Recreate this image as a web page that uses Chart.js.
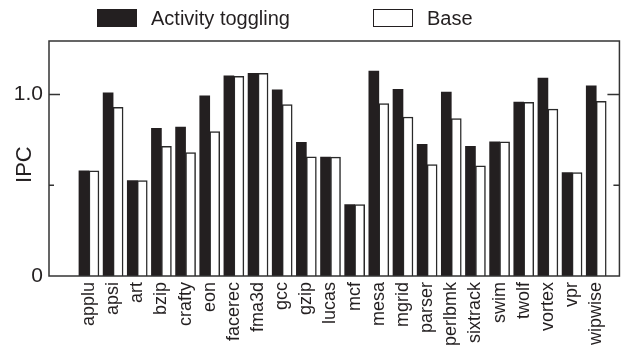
<!DOCTYPE html>
<html>
<head>
<meta charset="utf-8">
<script src="https://cdn.jsdelivr.net/npm/chart.js@4/dist/chart.umd.min.js"></script>
<style>
  html, body { margin: 0; padding: 0; background: #fff; }
  #wrap { position: relative; width: 624px; height: 356px; }
  #chart { position: absolute; left: 0; top: 0; }
  #legend { position: absolute; left: 0; top: 0; width: 624px; height: 36px;
            font-family: "Liberation Sans", Arial, sans-serif; font-size: 20px; color: #231f20; }
  .item { position: absolute; top: 9px; height: 18px; display: flex; align-items: center; }
  .box { width: 40px; height: 18px; box-sizing: border-box; flex: none; }
  .lab { margin-left: 14px; line-height: 18px; white-space: nowrap; }
</style>
</head>
<body>
<div id="wrap">
  <canvas id="chart" width="624" height="356"></canvas>
  <div id="legend"></div>
</div>
<script>
const categories = ["applu","apsi","art","bzip","crafty","eon","facerec","fma3d","gcc","gzip","lucas","mcf","mesa","mgrid","parser","perlbmk","sixtrack","swim","twolf","vortex","vpr","wipwise"];
const activityToggling = [0.58,1.01,0.526,0.814,0.82,0.993,1.103,1.117,1.026,0.737,0.655,0.393,1.129,1.029,0.726,1.014,0.715,0.739,0.959,1.091,0.57,1.048];
const base = [0.58,0.93,0.526,0.715,0.68,0.796,1.10,1.117,0.944,0.657,0.655,0.393,0.95,0.876,0.614,0.867,0.607,0.739,0.957,0.92,0.57,0.963];
const yTickValues = [0, 0.5, 1.0];
const yTickLabels = ["0", "", "1.0"];
const seriesNames = ["Activity toggling", "Base"];

const FONT = '"Liberation Sans", Arial, sans-serif';
const INK = '#231f20';

const toPoints = arr => arr.map((v, i) => ({ x: i, y: v }));

const frame = {
  id: 'frame',
  afterDatasetsDraw(chart) {
    const { ctx, chartArea: a, scales } = chart;
    ctx.save();
    ctx.strokeStyle = '#333';
    ctx.lineWidth = 1.5;
    ctx.strokeRect(a.left, a.top, a.right - a.left, a.bottom - a.top);
    yTickValues.forEach((v, i) => {
      if (v === 0) return;
      const y = scales.y.getPixelForValue(v);
      const len = yTickLabels[i] ? 11 : 5;
      ctx.beginPath();
      ctx.moveTo(a.left, y); ctx.lineTo(a.left + len, y);
      ctx.moveTo(a.right, y); ctx.lineTo(a.right - len - 1, y);
      ctx.stroke();
    });
    ctx.restore();
  }
};

const htmlLegend = {
  id: 'htmlLegend',
  afterUpdate(chart) {
    const el = document.getElementById('legend');
    el.innerHTML = '';
    const lefts = [97, 373];
    chart.data.datasets.forEach((ds, i) => {
      const item = document.createElement('div');
      item.className = 'item';
      item.style.left = lefts[i] + 'px';
      const box = document.createElement('div');
      box.className = 'box';
      box.style.background = ds.backgroundColor;
      box.style.border = '1px solid ' + INK;
      const lab = document.createElement('span');
      lab.className = 'lab';
      lab.textContent = ds.label;
      item.appendChild(box); item.appendChild(lab);
      el.appendChild(item);
    });
  }
};

new Chart(document.getElementById('chart'), {
  type: 'bar',
  data: {
    datasets: [
      { label: seriesNames[0], data: toPoints(activityToggling), backgroundColor: INK, borderColor: INK, borderWidth: 0, barThickness: 10 },
      { label: seriesNames[1], data: toPoints(base), backgroundColor: '#ffffff', borderColor: '#2a2a2a', borderWidth: 1.5, barThickness: 10 }
    ]
  },
  options: {
    responsive: false,
    animation: false,
    layout: { padding: { left: 0, right: 4, top: 41, bottom: 0 } },
    plugins: { legend: { display: false }, tooltip: { enabled: false } },
    scales: {
      x: {
        type: 'linear',
        offset: false,
        min: -1.654,
        max: 21.96,
        afterBuildTicks: s => { s.ticks = categories.map((_, i) => ({ value: i })); },
        afterFit: s => { s.height = 80; },
        grid: { display: false, offset: false, drawTicks: false, tickLength: 0 },
        border: { display: false },
        ticks: {
          autoSkip: false, maxRotation: 90, minRotation: 90, padding: 6,
          color: INK, font: { family: FONT, size: 18 },
          callback: v => categories[v] ?? ''
        }
      },
      y: {
        min: 0,
        max: 1.295,
        afterBuildTicks: s => { s.ticks = yTickValues.map(v => ({ value: v })); },
        afterFit: s => { s.width = 49; },
        grid: { display: false, drawTicks: false, tickLength: 0 },
        border: { display: false },
        ticks: {
          padding: 6, color: INK, font: { family: FONT, size: 21 },
          callback: v => { const i = yTickValues.indexOf(v); return i >= 0 ? yTickLabels[i] : ''; }
        },
        title: { display: true, text: 'IPC  ', color: INK, font: { family: FONT, size: 22 }, padding: { top: 12, bottom: 0 } }
      }
    }
  },
  plugins: [frame, htmlLegend]
});
</script>
</body>
</html>
